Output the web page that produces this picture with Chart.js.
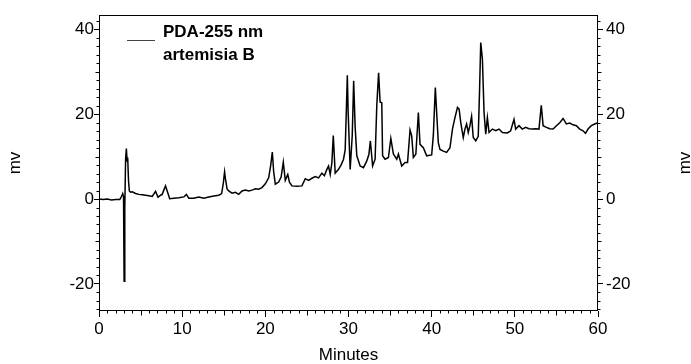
<!DOCTYPE html>
<html><head><meta charset="utf-8">
<script src="https://cdn.jsdelivr.net/npm/chart.js@4.4.1/dist/chart.umd.min.js"></script>
<style>html,body{margin:0;padding:0;background:#fff}#wrap{width:691px;height:364px}canvas{display:block}</style>
</head><body><div id="wrap"><canvas id="c" width="691" height="364"></canvas></div>
<script>
// ---- data ----
const minutes = [0.0,0.5,1.0,1.5,2.0,2.5,2.7,2.85,2.95,3.02,3.1,3.2,3.29,3.38,3.45,3.55,3.65,3.8,4.0,4.4,4.8,5.2,5.6,6.0,6.4,6.8,7.1,7.4,7.6,7.85,8.0,8.2,8.5,9.0,9.6,10.2,10.5,10.8,11.4,12.0,12.6,13.2,13.8,14.4,14.75,14.95,15.1,15.2,15.4,15.6,16.0,16.4,16.8,17.2,17.6,18.0,18.4,18.8,19.2,19.6,20.0,20.4,20.65,20.84,21.0,21.2,21.6,21.9,22.16,22.4,22.7,22.9,23.2,23.8,24.4,24.8,25.2,25.6,26.0,26.4,26.8,27.1,27.4,27.6,27.8,28.0,28.17,28.4,28.8,29.1,29.4,29.6,29.75,29.86,29.95,30.2,30.45,30.62,30.8,31.0,31.4,31.8,32.2,32.45,32.63,32.9,33.2,33.4,33.62,33.8,34.0,34.1,34.4,34.8,35.09,35.4,35.8,36.0,36.4,36.8,37.1,37.4,37.6,37.8,38.1,38.4,38.6,39.0,39.4,40.0,40.2,40.44,40.6,40.8,41.0,41.4,41.8,42.2,42.5,42.8,43.1,43.3,43.5,43.8,44.0,44.2,44.4,44.6,44.8,45.0,45.3,45.6,45.75,45.9,46.1,46.3,46.5,46.7,46.9,47.3,47.7,48.1,48.5,49.1,49.5,49.9,50.1,50.5,50.9,51.3,51.7,52.1,52.5,52.9,53.18,53.4,53.8,54.2,54.6,55.0,55.4,55.8,56.2,56.6,57.0,57.4,57.8,58.2,58.5,58.8,59.2,59.6,60.0];
const mv = [0.0,-0.1,0.0,-0.2,-0.1,-0.1,0.6,1.3,0.5,-19.4,-2.0,9.5,11.9,9.0,9.8,4.3,1.9,1.6,1.7,1.3,1.1,1.0,0.9,0.8,0.6,1.8,0.4,0.9,1.1,2.4,3.1,1.9,0.1,0.2,0.3,0.5,1.1,0.2,0.2,0.5,0.2,0.5,0.7,0.9,1.3,3.8,6.4,4.8,2.4,1.9,1.4,1.6,1.1,1.9,2.1,1.9,2.1,2.4,2.3,2.7,3.6,5.0,8.0,11.1,6.5,3.5,4.0,5.2,8.7,4.4,5.8,4.0,3.1,3.0,3.1,4.8,4.4,4.9,5.3,5.0,6.1,5.5,7.0,7.8,5.8,8.5,15.0,6.1,7.0,8.0,9.4,11.6,21.6,29.2,21.0,7.0,15.0,27.9,17.0,10.2,7.8,7.4,9.0,10.5,13.7,7.8,9.4,22.0,29.8,22.9,22.7,10.2,9.4,9.8,14.3,10.6,9.4,10.6,7.8,8.6,8.6,16.3,14.9,9.8,10.6,20.4,12.9,12.1,10.2,10.4,15.0,26.3,20.4,13.3,11.7,11.3,11.0,12.1,16.5,19.2,21.6,21.2,18.0,14.5,16.5,17.7,15.7,17.3,19.5,14.5,13.7,14.8,25.0,36.9,33.0,20.4,15.3,19.2,15.7,16.5,16.1,16.5,15.7,15.6,16.1,18.8,16.5,17.3,16.5,16.9,16.6,16.5,16.6,16.5,22.1,17.3,16.9,16.6,16.5,17.3,18.0,19.0,17.7,17.9,17.5,17.3,16.5,16.1,15.5,16.5,17.3,17.7,18.0];
const xTickValues = [0,10,20,30,40,50,60];
const yTickValues = [-20,0,20,40];
const legendLines = ['PDA-255 nm','artemisia B'];
const xTitle = 'Minutes';
const yTitle = 'mv';

const FONT = '"Liberation Sans", Arial, Helvetica, sans-serif';
Chart.defaults.font.family = FONT;
Chart.defaults.color = '#000';

const points = minutes.map((t,i)=>({x:t,y:mv[i]}));

const extras = {
  id:'extras',
  afterDraw(chart){
    const {ctx, chartArea:a, scales:{x,y}} = chart;
    ctx.save();
    ctx.strokeStyle = '#000';
    ctx.lineWidth = 1;
    const L = Math.round(a.left)+0.5, R = Math.round(a.right)-0.5;
    const T = Math.round(a.top)+0.5, B = Math.round(a.bottom)-0.5;
    ctx.strokeRect(L, T, R-L, B-T);
    ctx.beginPath();
    for (let t=0;t<=60;t++){
      if (t%10===0) continue;
      const px = Math.round(x.getPixelForValue(t))+0.5;
      const len = (t%5===0)?5:3;
      ctx.moveTo(px,B); ctx.lineTo(px,B+len);
    }
    for (let v=-26; v<=43; v+=2){
      if (v%20===0) continue;
      const py = Math.round(y.getPixelForValue(v))+0.5;
      const len = (v%10===0)?4:3;
      ctx.moveTo(L-len,py); ctx.lineTo(L,py);
      ctx.moveTo(R,py); ctx.lineTo(R+len,py);
    }
    ctx.stroke();
    // legend
    ctx.strokeStyle = '#444';
    ctx.beginPath(); ctx.moveTo(127,40.5); ctx.lineTo(155,40.5); ctx.stroke();
    ctx.fillStyle = '#000';
    ctx.font = 'bold 17px '+FONT;
    ctx.textBaseline = 'alphabetic';
    ctx.textAlign = 'left';
    ctx.fillText(legendLines[0], 163, 37);
    ctx.fillText(legendLines[1], 163, 59.5);
    // right axis title
    ctx.font = '17px '+FONT;
    ctx.translate(690, (a.top+a.bottom)/2);
    ctx.rotate(-Math.PI/2);
    ctx.textAlign = 'center';
    ctx.fillText(yTitle, 0, 0);
    ctx.restore();
  }
};

const yCommon = {
  type:'linear', min:-26.4, max:43.4,
  afterBuildTicks(s){ s.ticks = yTickValues.map(v=>({value:v})); },
  grid:{drawOnChartArea:false, tickLength:5, color:'#000', tickWidth:1},
  border:{display:false},
};

new Chart(document.getElementById('c'), {
  type:'line',
  data:{ datasets:[{ label:legendLines.join(' '), data:points, borderColor:'#000', borderWidth:1.5, pointRadius:0, tension:0, fill:false }]},
  options:{
    responsive:false, animation:false,
    layout:{padding:{top:15,left:0,right:0,bottom:0}},
    plugins:{legend:{display:false}, tooltip:{enabled:false}},
    scales:{
      x:{ type:'linear', min:0, max:60,
        afterBuildTicks(s){ s.ticks = xTickValues.map(v=>({value:v})); },
        ticks:{font:{size:17}, padding:2, maxRotation:0, color:'#000'},
        grid:{drawOnChartArea:false, tickLength:6, color:'#000'},
        border:{display:false},
        title:{display:true, text:xTitle, font:{size:17, lineHeight:1}, padding:{top:0,bottom:0}},
        afterFit(s){ s.height = 53; }
      },
      y:Object.assign({}, yCommon, { position:'left',
        ticks:{font:{size:17}, padding:0, color:'#000'},
        title:{display:true, text:yTitle, font:{size:17, lineHeight:1}, padding:{top:7,bottom:0}},
        afterFit(s){ s.width = 99; }
      }),
      y2:Object.assign({}, yCommon, { position:'right',
        ticks:{font:{size:17}, padding:3, color:'#000'},
        afterFit(s){ s.width = 93; }
      })
    }
  },
  plugins:[extras]
});
</script></body></html>
